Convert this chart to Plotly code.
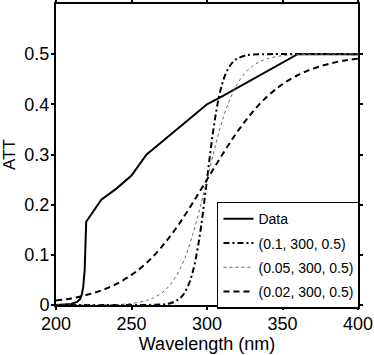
"""ATT versus wavelength: measured data and three sigmoid fits."""
import plotly.graph_objects as go

# measured curve
data_wl = [200, 210, 214, 216, 217, 218, 219, 220, 230, 240, 250, 260, 270, 280,
           290, 300, 310, 320, 330, 340, 350, 360, 380, 400]
data_att = [0.0, 0.002, 0.006, 0.012, 0.02, 0.035, 0.07, 0.166, 0.21, 0.232, 0.258,
            0.30, 0.325, 0.35, 0.375, 0.40, 0.416, 0.433, 0.45, 0.467, 0.483, 0.50,
            0.50, 0.50]

# (0.1, 300, 0.5)
fit1_wl = [200, 250, 270, 275, 280, 283, 285, 288, 290, 292, 294, 296, 298, 300,
           302, 304, 306, 308, 310, 312, 315, 318, 320, 325, 330, 340, 400]
fit1_att = [0.0, 0.0, 0.001, 0.003, 0.009, 0.016, 0.024, 0.042, 0.060, 0.084, 0.116,
            0.155, 0.201, 0.25, 0.299, 0.345, 0.384, 0.416, 0.440, 0.458, 0.476,
            0.487, 0.491, 0.497, 0.499, 0.5, 0.5]

# (0.05, 300, 0.5)
fit2_wl = [200, 220, 240, 250, 260, 265, 270, 275, 280, 285, 290, 295, 300, 305,
           310, 315, 320, 325, 330, 335, 340, 350, 360, 380, 400]
fit2_att = [0.0, 0.0, 0.001, 0.003, 0.009, 0.015, 0.024, 0.038, 0.060, 0.091, 0.135,
            0.189, 0.25, 0.311, 0.366, 0.409, 0.440, 0.462, 0.476, 0.485, 0.491,
            0.497, 0.499, 0.5, 0.5]

# (0.02, 300, 0.5)
fit3_wl = [200, 210, 220, 230, 240, 250, 260, 270, 280, 290, 300, 310, 320, 330,
           340, 350, 360, 370, 380, 390, 400]
fit3_att = [0.009, 0.013, 0.020, 0.029, 0.042, 0.060, 0.084, 0.116, 0.155, 0.201,
            0.25, 0.299, 0.345, 0.384, 0.416, 0.440, 0.458, 0.471, 0.480, 0.487, 0.491]

x_ticks = [200, 250, 300, 350, 400]
y_ticks = [0, 0.1, 0.2, 0.3, 0.4, 0.5]
y_labels = ["0", "0.1", "0.2", "0.3", "0.4", "0.5"]

FONT = "Liberation Sans, Arial, Helvetica, sans-serif"

fig = go.Figure()
fig.add_trace(go.Scatter(x=data_wl, y=data_att, name="Data", mode="lines",
                         legendgroup="a",
                         line=dict(color="black", width=2)))
fig.add_trace(go.Scatter(x=fit1_wl, y=fit1_att, name="(0.1, 300, 0.5)", mode="lines",
                         legendgroup="b", line_shape="spline",
                         line=dict(color="black", width=2, dash="6px,3px,2px,3px")))
fig.add_trace(go.Scatter(x=fit2_wl, y=fit2_att, name="(0.05, 300, 0.5)", mode="lines",
                         legendgroup="c", line_shape="spline",
                         line=dict(color="#666666", width=1, dash="dot")))
fig.add_trace(go.Scatter(x=fit3_wl, y=fit3_att, name="(0.02, 300, 0.5)", mode="lines",
                         legendgroup="d", line_shape="spline",
                         line=dict(color="black", width=2, dash="6px,4px")))

axis_style = dict(
    showline=True, linecolor="black", linewidth=2, mirror="ticks",
    ticks="outside", ticklen=3, tickwidth=1.5, tickcolor="black",
    showgrid=False, zeroline=False, automargin=False,
    tickfont=dict(family=FONT, size=18, color="black"),
)

fig.update_layout(
    width=374, height=355,
    paper_bgcolor="white", plot_bgcolor="white",
    margin=dict(l=56, r=16, t=4, b=50),
    font=dict(family=FONT, color="black"),
    xaxis=dict(range=[200, 400], tickvals=x_ticks, ticklabelstandoff=-2,
               title=dict(text="Wavelength (nm)", font=dict(size=18), standoff=0),
               **axis_style),
    yaxis=dict(range=[0, 0.6], tickvals=y_ticks, ticktext=y_labels,
               ticklabelstandoff=-2,
               title=dict(text="ATT", font=dict(size=17), standoff=6),
               **axis_style),
    legend=dict(x=0.533, y=0.343, xanchor="left", yanchor="top",
                bgcolor="white", bordercolor="black", borderwidth=1.5,
                font=dict(family=FONT, size=14, color="black"),
                tracegroupgap=3, itemwidth=30),
)

# drop the browser's default 8px page margin so the plot sits at (0, 0)
fig.write_html("out.html", config={"displayModeBar": False},
               post_script="document.body.style.margin='0';")
